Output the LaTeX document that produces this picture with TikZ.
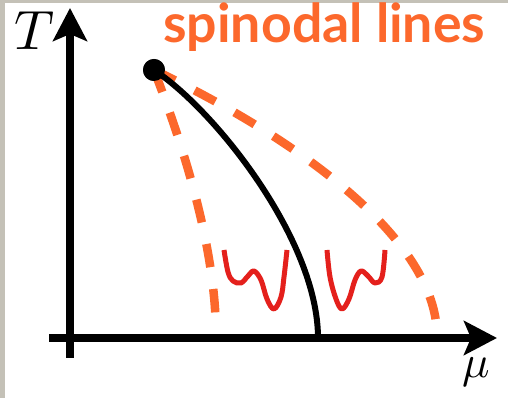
\documentclass[tikz,border=0pt]{standalone}
\usepackage{fontspec}
\newfontfamily\titlefont{Lato}
\usetikzlibrary{arrows.meta}
\definecolor{spinorange}{RGB}{252,104,44}
\definecolor{wellred}{RGB}{228,32,28}
\definecolor{framegray}{RGB}{196,193,183}

\begin{document}
\begin{tikzpicture}[x=0.02cm, y=-0.02cm, axis/.style={line width=0.16cm, -{Stealth[length=0.66cm, width=0.68cm, inset=0.14cm]}}, spinodal/.style={spinorange, line width=0.17cm, dash pattern=on 0.47cm off 0.44cm}, coex/.style={line width=0.12cm}, well/.style={wellred, line width=0.1cm, line join=round}]
\useasboundingbox (0,0) rectangle (508,398);
\fill[framegray] (0,0) rectangle (508,398);
\fill[white] (5,3) rectangle (508,398);
\coordinate (muorigin) at (49,338); \coordinate (muend) at (497,338);
\coordinate (Torigin) at (70,358); \coordinate (Tend) at (70,8);
\coordinate (lspin) at (216,336); \coordinate (rspin) at (437,336); \coordinate (coexend) at (318,338);
\node[circle, fill, inner sep=0pt, minimum size=0.44cm] (cp) at (154,70) {};
\draw[spinodal] (cp.center) .. controls (185,150) and (216,250) .. (lspin);
\draw[spinodal] (cp.center) .. controls (300,140) and (437,240) .. (rspin);
\draw[coex] (cp.center) .. controls (215,110) and (318,240) .. (coexend);
\draw[axis] (muorigin) -- (muend);
\draw[axis] (Torigin) -- (Tend);
\node[circle, fill, inner sep=0pt, minimum size=0.44cm] at (cp) {};
\draw[well] plot[smooth, tension=0.6] coordinates {(224,250) (228,272) (233,281) (241,283) (248,276) (254,271) (261,280) (267,299) (274,309) (281,297) (284,277) (287,250)};
\draw[well] plot[smooth, tension=0.6] coordinates {(327,250) (330,277) (336,299) (342,309) (349,299) (355,280) (361,271) (368,276) (375,283) (382,277) (385,250)};
\node[scale=3.15] (Tlab) at (35,31) {$T$};
\node[scale=2.6] (mulab) at (476,372) {$\mu$};
\node[anchor=base west, text=spinorange, font=\titlefont\bfseries\fontsize{30.5}{30.5}\selectfont, inner sep=0pt] (title) at (163,43) {spinodal lines};
\end{tikzpicture}
\end{document}
